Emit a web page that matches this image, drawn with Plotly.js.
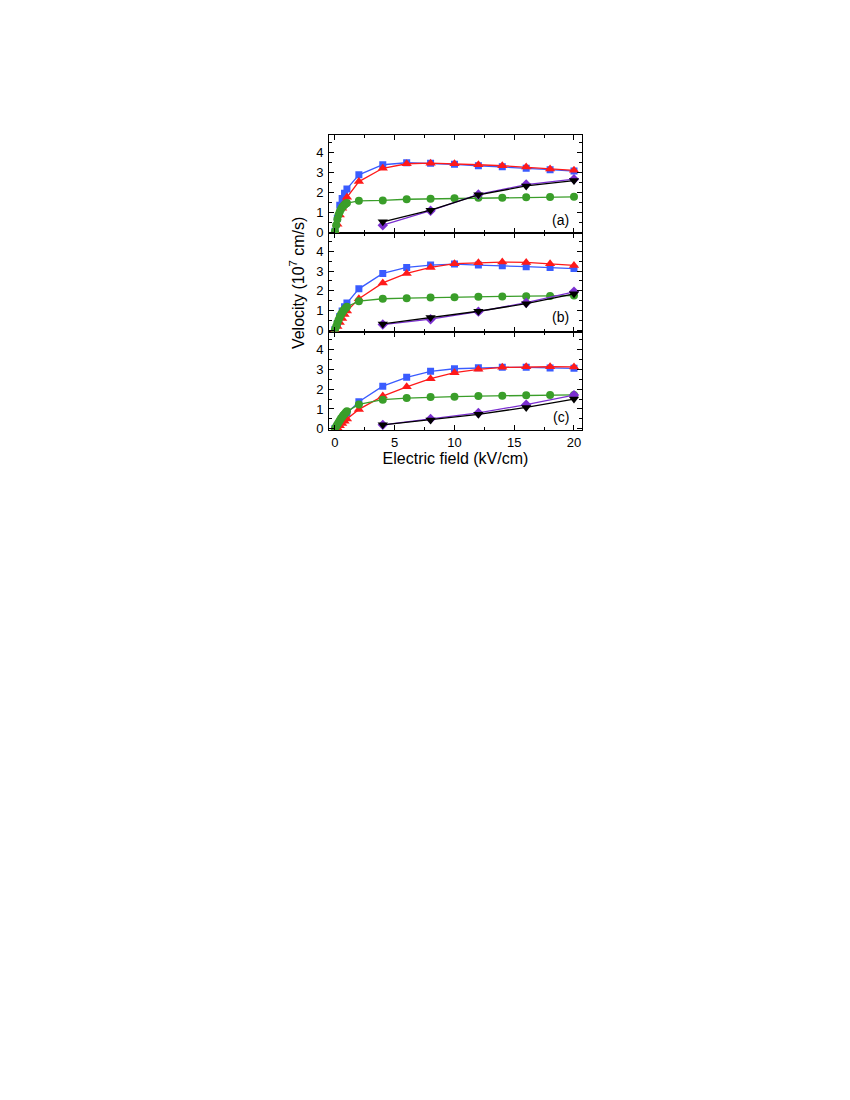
<!DOCTYPE html>
<html>
<head>
<meta charset="utf-8">
<script src="https://cdn.plot.ly/plotly-3.0.1.min.js"></script>
<style>
html,body{margin:0;padding:0;background:#fff;}
#chart{width:850px;height:1100px;}
</style>
</head>
<body>
<div id="chart"></div>
<script>
// ---- data ----
const xMain = [0, 0.2, 0.4, 0.6, 0.8, 1, 2, 4, 6, 8, 10, 12, 14, 16, 18, 20];
const xGreen = [0, 0.1, 0.2, 0.3, 0.4, 0.5, 0.6, 0.7, 0.8, 0.9, 1, 2, 4, 6, 8, 10, 12, 14, 16, 18, 20];
const xHigh = [4, 8, 12, 16, 20];
const xTicks = [0, 5, 10, 15, 20];
const yTicks = [0, 1, 2, 3, 4];

// panel (a)
const aBlue   = [0.05, 0.7, 1.35, 1.7, 1.96, 2.18, 2.89, 3.4, 3.5, 3.47, 3.42, 3.35, 3.3, 3.22, 3.15, 3.08];
const aRed    = [0.05, 0.4, 0.86, 1.2, 1.5, 1.76, 2.55, 3.22, 3.45, 3.48, 3.45, 3.4, 3.35, 3.28, 3.18, 3.12];
const aGreen  = [0.05, 0.35, 0.65, 0.88, 1.03, 1.15, 1.25, 1.32, 1.38, 1.43, 1.47, 1.58, 1.6, 1.66, 1.68, 1.71, 1.73, 1.74, 1.76, 1.77, 1.78];
const aPurple = [0.35, 1.08, 1.9, 2.4, 2.67];
const aBlack  = [0.52, 1.11, 1.88, 2.33, 2.6];

// panel (b)
const bBlue   = [0.05, 0.35, 0.7, 0.98, 1.2, 1.38, 2.1, 2.88, 3.18, 3.3, 3.35, 3.3, 3.27, 3.22, 3.17, 3.12];
const bRed    = [0.02, 0.2, 0.4, 0.6, 0.8, 0.98, 1.6, 2.4, 2.88, 3.18, 3.37, 3.42, 3.45, 3.43, 3.37, 3.28];
const bGreen  = [0.05, 0.2, 0.38, 0.53, 0.68, 0.8, 0.9, 0.99, 1.07, 1.14, 1.2, 1.48, 1.6, 1.63, 1.66, 1.68, 1.7, 1.72, 1.73, 1.74, 1.76];
const bPurple = [0.3, 0.57, 0.95, 1.4, 1.95];
const bBlack  = [0.33, 0.65, 0.97, 1.35, 1.85];

// panel (c)
const cBlue   = [0.02, 0.15, 0.32, 0.48, 0.63, 0.78, 1.37, 2.15, 2.6, 2.9, 3.03, 3.08, 3.1, 3.1, 3.07, 3.05];
const cRed    = [0, 0.05, 0.15, 0.27, 0.38, 0.5, 0.98, 1.65, 2.12, 2.53, 2.83, 3.0, 3.1, 3.13, 3.13, 3.12];
const cGreen  = [0.02, 0.12, 0.22, 0.32, 0.42, 0.52, 0.6, 0.68, 0.75, 0.82, 0.88, 1.23, 1.47, 1.55, 1.6, 1.62, 1.65, 1.67, 1.69, 1.7, 1.71];
const cPurple = [0.2, 0.5, 0.8, 1.22, 1.7];
const cBlack  = [0.2, 0.45, 0.73, 1.08, 1.5];

const panelLabels = ['(a)', '(b)', '(c)'];
const xTitle = 'Electric field (kV/cm)';
const yTitle = 'Velocity (10<sup>7</sup> cm/s)';

// ---- styles ----
const COL = {blue:'#3a5cff', red:'#ff1a1a', green:'#3a9e2a', purple:'#7b2fd0', black:'#000000'};
const FAM = 'Arial, "Liberation Sans", sans-serif';

function series(x, y, color, symbol, size, xa, ya){
  return {x:x, y:y, type:'scatter', mode:'lines+markers', xaxis:xa, yaxis:ya,
    line:{color:color, width:1.3},
    marker:{symbol:symbol, size:size, color:color, line:{width:0}},
    showlegend:false};
}

const panels = [
  {xa:'x3', ya:'y3', d:[aBlue,aRed,aGreen,aPurple,aBlack]},
  {xa:'x2', ya:'y2', d:[bBlue,bRed,bGreen,bPurple,bBlack]},
  {xa:'x',  ya:'y',  d:[cBlue,cRed,cGreen,cPurple,cBlack]}
];

const traces = [];
panels.forEach(p => {
  traces.push(series(xMain, p.d[0], COL.blue, 'square', 7, p.xa, p.ya));
  traces.push(series(xMain, p.d[1], COL.red, 'triangle-up', 9, p.xa, p.ya));
  traces.push(series(xGreen, p.d[2], COL.green, 'circle', 8, p.xa, p.ya));
  traces.push(series(xHigh, p.d[3], COL.purple, 'diamond', 8, p.xa, p.ya));
  traces.push(series(xHigh, p.d[4], COL.black, 'triangle-down', 9, p.xa, p.ya));
});

const tickFont = {family:FAM, size:13, color:'#000'};

function xaxis(anchor, labels){
  return {anchor:anchor, range:[-0.5, 20.67], tickmode:'array', tickvals:xTicks,
    showticklabels: labels, ticks:'inside', ticklen:5, tickwidth:1, tickcolor:'#000',
    minor:{tickmode:'linear', tick0:0, dtick:2.5, ticks:'inside', ticklen:3, tickwidth:1, tickcolor:'#000'},
    showline:true, linecolor:'#000', linewidth:1, mirror:'allticks', showgrid:false, zeroline:false,
    tickfont:tickFont, fixedrange:true};
}
function yaxis(anchor, dom){
  return {anchor:anchor, domain:dom, range:[-0.06, 4.9], tickmode:'array', tickvals:yTicks,
    ticks:'inside', ticklen:5, tickwidth:1, tickcolor:'#000',
    minor:{tickmode:'linear', tick0:0, dtick:0.5, ticks:'inside', ticklen:3, tickwidth:1, tickcolor:'#000'},
    showline:true, linecolor:'#000', linewidth:1, mirror:'allticks', showgrid:false, zeroline:false,
    tickfont:tickFont, ticklabelstandoff:2, fixedrange:true};
}

const layout = {
  width:850, height:1100,
  margin:{l:329, r:268, t:135, b:670},
  paper_bgcolor:'#fff', plot_bgcolor:'#fff',
  showlegend:false,
  xaxis: Object.assign(xaxis('y', true), {title:{text:xTitle, font:{family:FAM, size:16, color:'#000'}, standoff:0}}),
  xaxis2: xaxis('y2', false),
  xaxis3: xaxis('y3', false),
  yaxis: yaxis('x', [0, 0.3333]),
  yaxis2: yaxis('x2', [0.3333, 0.6667]),
  yaxis3: yaxis('x3', [0.6667, 1]),
  annotations: [
    {text:yTitle, xref:'paper', yref:'paper', x:-0.128, y:0.5, xanchor:'center', yanchor:'middle',
     textangle:-90, showarrow:false, font:{family:FAM, size:16, color:'#000'}},
    {text:panelLabels[0], xref:'x3', yref:'y3', x:18.9, y:0.62, showarrow:false, font:{family:FAM, size:14, color:'#000'}},
    {text:panelLabels[1], xref:'x2', yref:'y2', x:18.9, y:0.68, showarrow:false, font:{family:FAM, size:14, color:'#000'}},
    {text:panelLabels[2], xref:'x', yref:'y', x:18.9, y:0.62, showarrow:false, font:{family:FAM, size:14, color:'#000'}}
  ]
};

Plotly.newPlot('chart', traces, layout, {staticPlot:true, displayModeBar:false});
</script>
</body>
</html>
